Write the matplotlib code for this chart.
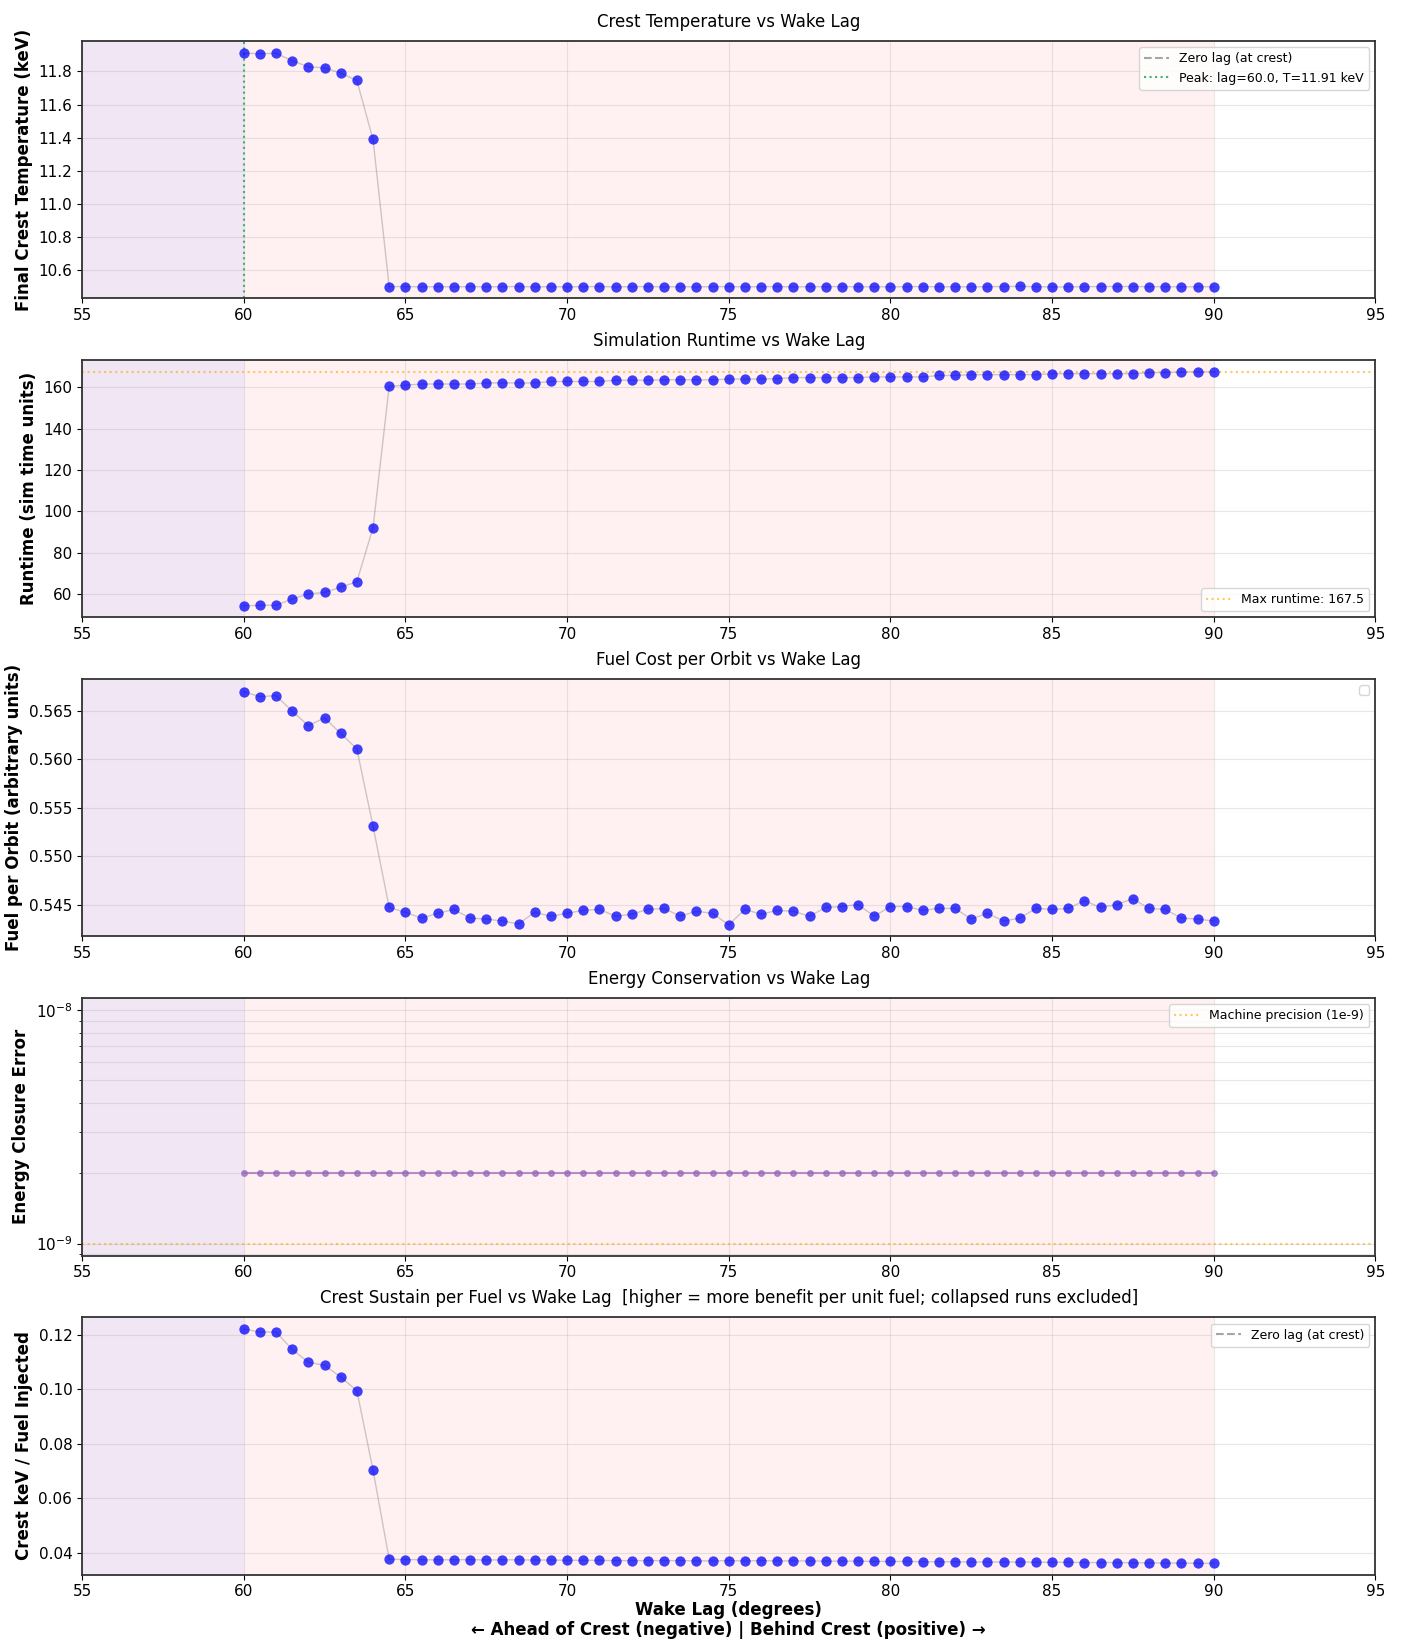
import matplotlib
matplotlib.use("Agg")
import matplotlib.pyplot as plt
import numpy as np

# wake lag sweep, 60 .. 90 deg in 0.5 steps
lag = [60.0 + 0.5 * i for i in range(61)]

crest_T = [11.911, 11.907, 11.910, 11.865, 11.828, 11.822, 11.790, 11.746, 11.389,
           10.499, 10.500, 10.498, 10.499, 10.498, 10.500, 10.498, 10.499, 10.500, 10.498,
           10.499, 10.498, 10.499, 10.500, 10.498, 10.499, 10.500, 10.498, 10.499, 10.498,
           10.499, 10.500, 10.498, 10.499, 10.500, 10.498, 10.499, 10.499, 10.500, 10.498,
           10.499, 10.498, 10.499, 10.500, 10.498, 10.499, 10.498, 10.499, 10.500, 10.501,
           10.499, 10.498, 10.498, 10.499, 10.500, 10.500, 10.500, 10.499, 10.499, 10.498,
           10.499, 10.499]

runtime = [54.3, 54.6, 54.6, 57.6, 60.1, 60.8, 63.3, 66.0, 92.1,
           160.5, 161.0, 161.6, 161.6, 161.6, 161.6, 162.1, 162.1, 162.1, 162.1,
           162.8, 162.8, 162.8, 162.8, 163.4, 163.4, 163.4, 163.6, 163.7, 163.6,
           163.6, 164.0, 164.0, 164.0, 164.2, 164.7, 164.7, 164.7, 164.7, 164.7,
           165.0, 165.0, 165.0, 165.0, 165.7, 165.7, 166.1, 166.1, 166.1, 166.1,
           166.1, 166.6, 166.6, 166.6, 166.6, 166.6, 166.6, 167.1, 167.1, 167.4,
           167.4, 167.5]

fuel = [0.5670, 0.5665, 0.5666, 0.5650, 0.5635, 0.5643, 0.5627, 0.5611, 0.5531,
        0.5447, 0.5442, 0.5436, 0.5441, 0.5445, 0.5436, 0.5435, 0.5433, 0.5430, 0.5442,
        0.5438, 0.5441, 0.5444, 0.5445, 0.5438, 0.5440, 0.5445, 0.5446, 0.5438, 0.5443,
        0.5441, 0.5429, 0.5445, 0.5440, 0.5444, 0.5443, 0.5438, 0.5447, 0.5448, 0.5450,
        0.5438, 0.5448, 0.5448, 0.5444, 0.5446, 0.5446, 0.5435, 0.5441, 0.5433, 0.5436,
        0.5446, 0.5445, 0.5446, 0.5454, 0.5447, 0.5450, 0.5456, 0.5446, 0.5445, 0.5436,
        0.5435, 0.5433]

energy_err = [2e-9] * 61

sustain = [0.1221, 0.1210, 0.1210, 0.1146, 0.1099, 0.1088, 0.1045, 0.0995, 0.0704,
           0.0377, 0.0376, 0.0375, 0.0375, 0.0375, 0.0376, 0.0374, 0.0375, 0.0375, 0.0374,
           0.0374, 0.0373, 0.0373, 0.0373, 0.0372, 0.0372, 0.0372, 0.0372, 0.0372, 0.0371,
           0.0371, 0.0372, 0.0371, 0.0372, 0.0371, 0.0371, 0.0371, 0.0370, 0.0370, 0.0370,
           0.0369, 0.0369, 0.0369, 0.0368, 0.0368, 0.0368, 0.0367, 0.0367, 0.0367, 0.0367,
           0.0366, 0.0366, 0.0366, 0.0365, 0.0365, 0.0365, 0.0364, 0.0364, 0.0363, 0.0363,
           0.0362, 0.0362]

peak_lag = 60.0
peak_T = 11.91
max_rt = 167.5

fig, axes = plt.subplots(5, 1, figsize=(14.02, 16.47), dpi=100)
plt.subplots_adjust(left=0.0585, right=0.981, top=0.975, bottom=0.044, hspace=0.24)


def shade(ax):
    ax.axvspan(55, 60, color='#8e44ad', alpha=0.13, lw=0)
    ax.axvspan(60, 90, color='red', alpha=0.055, lw=0)
    ax.set_xlim(55, 95)
    ax.grid(True, alpha=0.3)
    ax.tick_params(labelsize=11)
    for s in ax.spines.values():
        s.set_linewidth(1.3)
        s.set_color('#333333')


def dots(ax, y):
    ax.plot(lag, y, '-', color='gray', alpha=0.4, lw=1)
    ax.scatter(lag, y, s=55, color='blue', alpha=0.75, lw=0, zorder=3)


# 1 crest temperature
ax = axes[0]
shade(ax)
dots(ax, crest_T)
ax.axvline(0, color='gray', ls='--', alpha=0.7, label='Zero lag (at crest)')
ax.axvline(peak_lag, color='mediumseagreen', ls=':', lw=1.5,
           label='Peak: lag=%.1f, T=%.2f keV' % (peak_lag, peak_T))
ax.set_ylim(10.428, 11.983)
ax.set_yticks([10.6, 10.8, 11.0, 11.2, 11.4, 11.6, 11.8])
ax.set_ylabel('Final Crest Temperature (keV)', fontsize=12, fontweight='bold')
ax.set_title('Crest Temperature vs Wake Lag', fontsize=12, pad=10)
ax.legend(loc='upper right', fontsize=9)

# 2 runtime
ax = axes[1]
shade(ax)
dots(ax, runtime)
ax.axhline(max_rt, color='orange', ls=':', alpha=0.6, lw=1.5, label='Max runtime: %.1f' % max_rt)
ax.set_ylim(48.7, 173.1)
ax.set_ylabel('Runtime (sim time units)', fontsize=12, fontweight='bold')
ax.set_title('Simulation Runtime vs Wake Lag', fontsize=12, pad=10)
ax.legend(loc='lower right', fontsize=9)

# 3 fuel
ax = axes[2]
shade(ax)
dots(ax, fuel)
ax.set_ylim(0.5417, 0.5683)
ax.set_yticks([0.545, 0.550, 0.555, 0.560, 0.565])
ax.set_ylabel('Fuel per Orbit (arbitrary units)', fontsize=12, fontweight='bold')
ax.set_title('Fuel Cost per Orbit vs Wake Lag', fontsize=12, pad=10)
ax.legend(handles=[], loc='upper right', fontsize=9)

# 4 energy closure
ax = axes[3]
ax.set_yscale('log')
shade(ax)
ax.grid(True, which='both', alpha=0.3)
ax.plot(lag, energy_err, '-o', color='tab:purple', alpha=0.7, markersize=4, lw=1.5)
ax.axhline(1e-9, color='orange', ls=':', alpha=0.6, lw=1.5, label='Machine precision (1e-9)')
ax.set_ylim(0.889e-9, 1.125e-8)
ax.set_ylabel('Energy Closure Error', fontsize=12, fontweight='bold')
ax.set_title('Energy Conservation vs Wake Lag', fontsize=12, pad=10)
ax.legend(loc='upper right', fontsize=9)

# 5 sustain per fuel
ax = axes[4]
shade(ax)
dots(ax, sustain)
ax.axvline(0, color='gray', ls='--', alpha=0.7, label='Zero lag (at crest)')
ax.set_ylim(0.0321, 0.1264)
ax.set_yticks([0.04, 0.06, 0.08, 0.10, 0.12])
ax.set_ylabel('Crest keV / Fuel Injected', fontsize=12, fontweight='bold')
ax.set_title('Crest Sustain per Fuel vs Wake Lag  [higher = more benefit per unit fuel; collapsed runs excluded]',
             fontsize=12, pad=10)
ax.legend(loc='upper right', fontsize=9)
ax.set_xlabel('Wake Lag (degrees)\n\u2190 Ahead of Crest (negative) | Behind Crest (positive) \u2192',
              fontsize=12, fontweight='bold', labelpad=1)

plt.savefig('out.png', dpi=100)
